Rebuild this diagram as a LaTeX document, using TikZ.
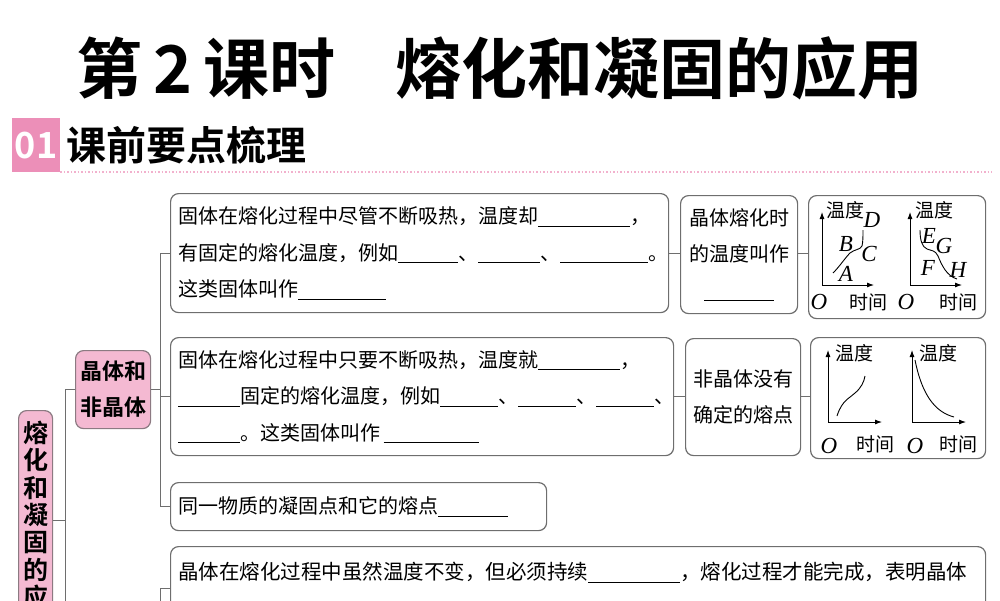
\documentclass[tikz,border=0pt]{standalone}
\usepackage{fontspec}
\setmainfont{Noto Sans CJK SC}
\newfontfamily\cjkb{Noto Sans CJK SC Bold}
\newfontfamily\latserif{Liberation Serif}
\usetikzlibrary{arrows.meta}
\definecolor{pinkfill}{HTML}{F4B9D2}
\definecolor{pinkhead}{HTML}{EC8FB8}
\definecolor{pinkedge}{HTML}{8C7A82}
\definecolor{boxedge}{HTML}{6E6E6E}
\newcommand{\bl}[1]{\rule[-3pt]{#1pt}{0.8pt}}
\tikzset{
  box/.style={draw=boxedge, line width=1.2pt, rounded corners=8pt, anchor=north west, inner sep=0pt},
  pbox/.style={draw=pinkedge, fill=pinkfill, line width=1.2pt, rounded corners=8pt, anchor=north west, inner sep=0pt},
  txt/.style={anchor=west, align=left, inner sep=0pt, font=\fontsize{20}{36.5}\selectfont},
  lnk/.style={draw=boxedge, line width=1pt},
  ax/.style={line width=0.9pt, -{Latex[length=7pt,width=5pt]}},
  crv/.style={line width=0.9pt},
  gl/.style={inner sep=0pt, font=\fontsize{19}{19}\selectfont},
  gi/.style={inner sep=0pt, font=\latserif\itshape\fontsize{23}{23}\selectfont}
}
\begin{document}
\begin{tikzpicture}[x=1pt,y=-1pt]
\useasboundingbox (0,0) rectangle (1000,600);
\clip (0,0) rectangle (1000,600);
% title
\node[inner sep=0pt, font=\cjkb\fontsize{66}{66}\selectfont] (title) at (500,68) {第\,2\,课时\hspace{0.9em}熔化和凝固的应用};
% header
\fill[pinkhead] (12,118) rectangle (60,172);
\node[inner sep=0pt, text=white, font=\cjkb\fontsize{36}{36}\selectfont] (num) at (36,146) {01};
\node[inner sep=0pt, anchor=west, font=\cjkb\fontsize{40}{40}\selectfont] (head) at (66,145) {课前要点梳理};
\draw[pinkhead!70, line width=1.5pt, dotted] (60,172) -- (992,172);
% root
\node[pbox, minimum width=34pt, minimum height=220pt] (root) at (18,410) {};
\node[anchor=north, inner sep=0pt, align=center, font=\cjkb\fontsize{25}{27.3}\selectfont] (roott) at ([yshift=-11]root.north) {熔\\化\\和\\凝\\固\\的\\应};
% crystal box
\node[pbox, minimum width=75pt, minimum height=78pt] (J) at (75,350) {};
\node[inner sep=0pt, align=center, font=\cjkb\fontsize{22}{36}\selectfont] (Jt) at (J.center) {晶体和\\非晶体};
% boxes
\node[box, minimum width=498pt, minimum height=119pt] (A) at (170,193) {};
\node[txt] (At) at ([xshift=8]A.west) {固体在熔化过程中尽管不断吸热，温度却\bl{92}，\\有固定的熔化温度，例如\bl{60}、\bl{62}、\bl{88}。\\这类固体叫作\bl{88}};
\node[box, minimum width=117pt, minimum height=118pt] (A2) at (680,195) {};
\node[txt, anchor=center, align=center] (A2t) at (A2.center) {晶体熔化时\\的温度叫作\\\bl{70}};
\node[box, minimum width=177pt, minimum height=123pt] (A3) at (808,195) {};
\node[box, minimum width=503pt, minimum height=118pt] (B) at (170,337) {};
\node[txt] (Bt) at ([xshift=8]B.west) {固体在熔化过程中只要不断吸热，温度就\bl{82}，\\\bl{62}固定的熔化温度，例如\bl{58}、\bl{58}、\bl{58}、\\\bl{62}。这类固体叫作\,\bl{95}};
\node[box, minimum width=115pt, minimum height=117pt] (B2) at (685,338) {};
\node[txt, anchor=center, align=center] (B2t) at (B2.center) {非晶体没有\\确定的熔点};
\node[box, minimum width=175pt, minimum height=121pt] (B3) at (810,337) {};
\node[box, minimum width=376pt, minimum height=48pt] (C) at (170,482) {};
\node[txt] (Ct) at ([xshift=8]C.west) {同一物质的凝固点和它的熔点\bl{70}};
\node[box, minimum width=815pt, minimum height=80pt] (D) at (170,546) {};
\node[txt, anchor=north west, font=\fontsize{20.5}{36}\selectfont] (Dt) at (178,562) {晶体在熔化过程中虽然温度不变，但必须持续\bl{92}，熔化过程才能完成，表明晶体};
% tree connectors
\coordinate (t1) at (65,0);
\coordinate (t2) at (160,0);
\draw[lnk] (root.east |- 0,520) -- (t1 |- 0,520);
\draw[lnk] (t1 |- 0,620) -- (t1 |- J.west) -- (J.west);
\draw[lnk] (J.east) -- (t2 |- J.east);
\draw[lnk] (A.west |- 0,253) -- (t2 |- 0,253) -- (t2 |- C.west) -- (C.west);
\draw[lnk] (t2 |- B.west) -- (B.west);
\draw[lnk] (t2 |- 0,620) -- (t2 |- 0,588) -- (D.west |- 0,588);
\draw[lnk] (A.east |- 0,253) -- (A2.west |- 0,253);
\draw[lnk] (A2.east |- 0,253) -- (A3.west |- 0,253);
\draw[lnk] (B.east |- 0,396) -- (B2.west |- 0,396);
\draw[lnk] (B2.east |- 0,396) -- (B3.west |- 0,396);
% graph 1
\coordinate (o1) at (822,285);
\draw[ax] (o1) -- (822,212);
\draw[ax] (o1) -- (874,285);
\draw[crv] (833,273) .. controls (840,266) and (845,258) .. (850,253) .. controls (855,249) and (860,250) .. (862,246) .. controls (863,242) and (863,236) .. (863,230);
\node[gl] (w1) at (845,210) {温度};
\node[gi] (gD) at (872,220) {D};
\node[gi] (gB) at (846,244) {B};
\node[gi] (gC) at (869,254) {C};
\node[gi] (gA) at (846,274) {A};
\node[gi] (gO) at (819,302) {O};
\node[gl] (tm1) at (868,302) {时间};
% graph 2
\coordinate (o2) at (910,285);
\draw[ax] (o2) -- (910,212);
\draw[ax] (o2) -- (962,285);
\draw[crv] (920,230) .. controls (920,240) and (922,247) .. (927,249) .. controls (932,251) and (935,250) .. (938,256) .. controls (942,266) and (947,276) .. (957,279);
\node[gl] (w2) at (934,210) {温度};
\node[gi] (gE) at (929,236) {E};
\node[gi] (gG) at (944,246) {G};
\node[gi] (gF) at (928,268) {F};
\node[gi] (gH) at (958,270) {H};
\node[gi] (gO2) at (906,302) {O};
\node[gl] (tm2) at (958,302) {时间};
% graph 3
\coordinate (o3) at (828,422);
\draw[ax] (o3) -- (828,350);
\draw[ax] (o3) -- (882,422);
\draw[crv] (837,416) .. controls (842,400) and (850,398) .. (855,393) .. controls (861,388) and (864,382) .. (865,376);
\node[gl] (w3) at (854,353) {温度};
\node[gi] (gO3) at (829,446) {O};
\node[gl] (tm3) at (875,444) {时间};
% graph 4
\coordinate (o4) at (912,422);
\draw[ax] (o4) -- (912,350);
\draw[ax] (o4) -- (966,422);
\draw[crv] (915,360) .. controls (922,395) and (935,412) .. (954,417);
\node[gl] (w4) at (938,353) {温度};
\node[gi] (gO4) at (915,446) {O};
\node[gl] (tm4) at (958,444) {时间};
\end{tikzpicture}
\end{document}
